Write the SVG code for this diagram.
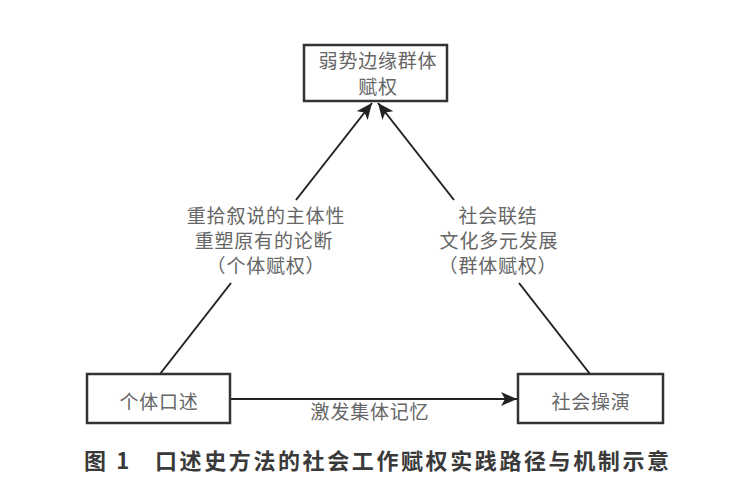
<svg xmlns="http://www.w3.org/2000/svg" width="756" height="495" viewBox="0 0 756 495">
<style>
.box{fill:#fff;stroke:#333;stroke-width:2.5}
.t{font-family:"Noto Sans CJK SC","Noto Sans",sans-serif;font-size:19px;fill:#666;text-anchor:middle;letter-spacing:0.8px}
.cap{font-family:"Noto Sans CJK SC","Noto Sans",sans-serif;font-size:22px;fill:#3a3a3a;font-weight:bold;letter-spacing:2.6px}
.ln{stroke:#222;stroke-width:2;fill:none}
</style>
<defs>
<marker id="ah" markerUnits="userSpaceOnUse" markerWidth="18" markerHeight="14" refX="16" refY="7" orient="auto">
<path d="M0,0 L16,7 L0,14 L4,7 z" fill="#222"/>
</marker>
</defs>
<rect width="756" height="495" fill="#fff"/>
<g id="connectors">
<line class="ln" x1="160" y1="374" x2="231" y2="283"/>
<line class="ln" x1="296" y1="200" x2="372" y2="103" marker-end="url(#ah)"/>
<line class="ln" x1="590" y1="374" x2="519" y2="283"/>
<line class="ln" x1="454" y1="200" x2="378" y2="103" marker-end="url(#ah)"/>
<line class="ln" x1="230" y1="399" x2="517" y2="399" marker-end="url(#ah)"/>
</g>
<g id="node-top">
<rect class="box" x="304" y="45" width="143" height="56"/>
<text class="t" x="378" y="68">弱势边缘群体</text>
<text class="t" x="378" y="94">赋权</text>
</g>
<g id="node-left">
<rect class="box" x="87" y="374" width="143" height="49"/>
<text class="t" x="159" y="409">个体口述</text>
</g>
<g id="node-right">
<rect class="box" x="518" y="374" width="145" height="49"/>
<text class="t" x="591" y="409">社会操演</text>
</g>
<g id="label-left">
<text class="t" x="266" y="223">重拾叙说的主体性</text>
<text class="t" x="264" y="248">重塑原有的论断</text>
<text class="t" x="266" y="273">（个体赋权）</text>
</g>
<g id="label-right">
<text class="t" x="498" y="223">社会联结</text>
<text class="t" x="499" y="248">文化多元发展</text>
<text class="t" x="498" y="273">（群体赋权）</text>
</g>
<g id="label-bottom">
<text class="t" x="370" y="419">激发集体记忆</text>
</g>
<g id="caption">
<text class="cap" x="84" y="469">图 1</text>
<text class="cap" x="155" y="469">口述史方法的社会工作赋权实践路径与机制示意</text>
</g>
</svg>
